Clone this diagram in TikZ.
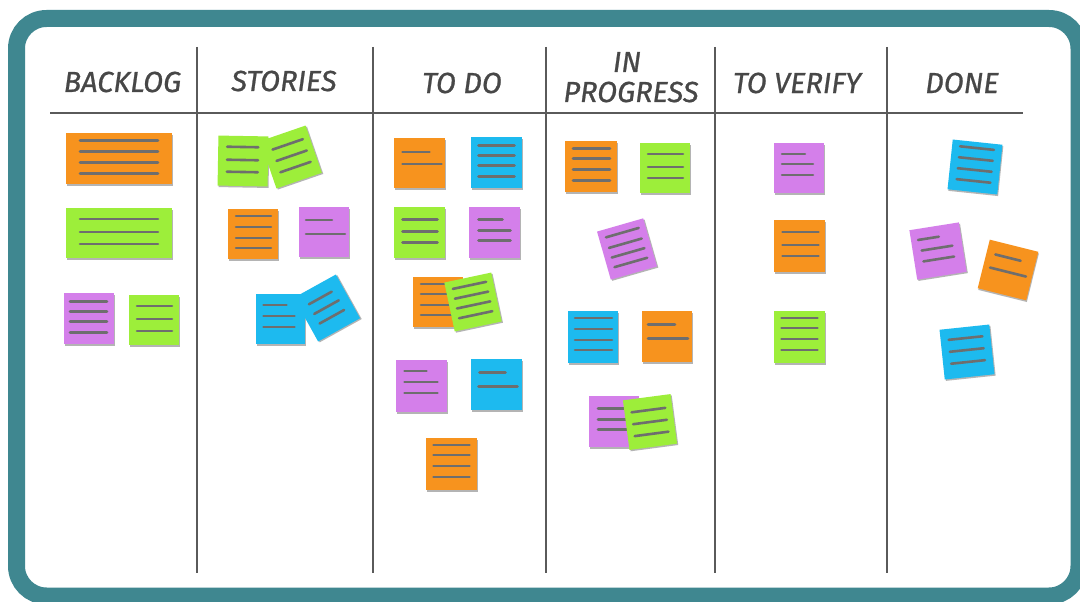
\documentclass[tikz,border=0pt]{standalone}
\usepackage{fontspec}
\newfontfamily\handfont[FakeBold=0.8]{Fira Sans}
\definecolor{frameteal}{HTML}{3F8790}
\definecolor{gridgray}{HTML}{5A5A5A}
\definecolor{inkgray}{HTML}{474747}
\definecolor{lingray}{HTML}{6E6E6E}
\definecolor{shadgray}{HTML}{B4B4B4}
\definecolor{cor}{HTML}{F7931E}
\definecolor{cgr}{HTML}{9DEE3A}
\definecolor{cpu}{HTML}{D47FEA}
\definecolor{cbl}{HTML}{1DBAEF}
\tikzset{
  notebox/.style={draw=none, inner sep=0pt, transform shape},
  noteline/.style={line width=2.6pt, draw=lingray, line cap=round},
  gridline/.style={line width=2.8pt, draw=gridgray},
  head/.style={font=\handfont\itshape\fontsize{29}{31}\selectfont, text=inkgray, anchor=base, inner sep=0pt},
}
\newcommand\stickynote[7]{%
  \begin{scope}[shift={#2}, rotate=#3]
    \fill[shadgray] (-#5/2+1,-#6/2+1.5) rectangle (#5/2+1,#6/2+1.5);
    \node[notebox, fill=#4, minimum width=#5pt, minimum height=#6pt] (#1) at (0,0) {};
    \foreach \xa/\xb/\yy in {#7} \draw[noteline] (\xa,\yy) -- (\xb,\yy);
  \end{scope}}
\begin{document}
\begin{tikzpicture}[x=1pt,y=-1pt]
\useasboundingbox (0,0) rectangle (1080,602);
\clip (0,0) rectangle (1080,602);
\fill[white] (0,0) rectangle (1080,602);
% frame
\draw[frameteal, line width=17pt, rounded corners=30pt] (16.5,18.5) rectangle (1079,596);
% grid
\coordinate (hl) at (50,113);
\coordinate (hr) at (1023,113);
\draw[gridline] (hl) -- (hr);
\foreach \x [count=\i] in {197,373,546,715,887} {
  \coordinate (vt\i) at (\x,47);
  \coordinate (vb\i) at (\x,573);
  \draw[gridline] (vt\i) -- (vb\i);
}
% headers
\node[head] (hbacklog) at (122.5,92) {BACKLOG};
\node[head] (hstories) at (284,91) {STORIES};
\node[head] (htodo) at (462,93) {TO DO};
\node[head] (hin) at (627,72) {IN};
\node[head] (hprog) at (631,102) {PROGRESS};
\node[head] (hverify) at (797,93) {TO VERIFY};
\node[head] (hdone) at (962,93) {DONE};
% backlog
\stickynote{b1}{(119,158.5)}{0}{cor}{106}{51}{-39/39/-18,-39/39/-7,-39/39/4,-39/39/15}
\stickynote{b2}{(119,233)}{0}{cgr}{106}{50}{-39/39/-14,-39/39/-1,-39/39/11}
\stickynote{b3}{(89,318.5)}{0}{cpu}{50}{51}{-19/18/-17,-19/18/-7,-19/18/3,-19/18/14}
\stickynote{b4}{(154,320)}{0}{cgr}{50}{50}{-17/18/-14,-17/18/-1,-17/18/11}
% stories
\stickynote{s1}{(243,161)}{-1}{cgr}{50}{50}{-16/15/-14,-16/15/-1,-16/15/11}
\stickynote{s2}{(291,157)}{19}{cgr}{48}{50}{-15/17/-13,-15/17/-1,-15/17/11}
\stickynote{s3}{(253,234)}{0}{cor}{50}{50}{-17/18/-18,-17/18/-7,-17/18/4,-17/18/14}
\stickynote{s4}{(324,232)}{0}{cpu}{50}{50}{-18/8/-12,-18/21/2}
\stickynote{s5}{(280.5,319)}{0}{cbl}{49}{50}{-17/6/-14,-17/14/-3,-17/14/8}
\stickynote{s6}{(327,308)}{29}{cbl}{48}{50}{-14/12/-12,-14/14/-1,-14/14/10}
% to do
\stickynote{t1}{(419.5,163)}{0}{cor}{51}{50}{-17/10/-11,-17/22/1}
\stickynote{t2}{(496.5,162.5)}{0}{cbl}{51}{51}{-18/18/-17,-18/18/-7,-18/18/3,-18/18/14}
\stickynote{t3}{(419.5,232.5)}{0}{cgr}{51}{51}{-17/18/-13,-17/18/-1,-17/18/10}
\stickynote{t4}{(494.5,232.5)}{0}{cpu}{51}{51}{-16/8/-13,-16/16/-2,-16/16/8}
\stickynote{t5}{(438,302)}{0}{cor}{50}{50}{-17/17/-18,-17/17/-8,-17/17/3,-17/17/13}
\stickynote{t6}{(473,302)}{12}{cgr}{48}{50}{-17/17/-17,-17/17/-7,-17/17/3,-17/17/13}
\stickynote{t7}{(421.5,386)}{0}{cpu}{51}{52}{-17/5/-15,-17/16/-4,-17/16/7}
\stickynote{t8}{(496.5,384.5)}{0}{cbl}{51}{51}{-17/9/-12,-18/21/2}
\stickynote{t9}{(451.5,464)}{0}{cor}{51}{52}{-18/18/-19,-18/18/-9,-18/18/2,-18/18/13}
% in progress
\stickynote{p1}{(591,166.5)}{0}{cor}{52}{51}{-18/19/-18,-18/19/-8,-18/19/3,-18/19/14}
\stickynote{p2}{(665,168)}{0}{cgr}{50}{50}{-17/18/-14,-17/18/-1,-17/18/10}
\stickynote{p3}{(627,249)}{16}{cpu}{48}{50}{-17/17/-17,-17/17/-6,-17/17/4,-17/17/14}
\stickynote{p4}{(593,337)}{0}{cbl}{50}{52}{-18/19/-19,-18/19/-8,-18/19/3,-18/19/13}
\stickynote{p5}{(667,336.5)}{0}{cor}{50}{51}{-19/8/-12,-19/21/2}
\stickynote{p6}{(614,421.5)}{0}{cpu}{50}{51}{-16/16/-13,-16/16/-2,-16/16/8}
\stickynote{p7}{(650,422)}{7.5}{cgr}{48}{50}{-17/17/-12,-17/17/0,-17/17/12}
% to verify
\stickynote{v1}{(799,168)}{0}{cpu}{50}{50}{-17/6/-14,-17/14/-4,-17/14/7}
\stickynote{v2}{(799.5,246)}{0}{cor}{51}{52}{-17/19/-14,-17/19/-1,-17/19/10}
\stickynote{v3}{(799.5,337)}{0}{cgr}{51}{52}{-18/18/-19,-18/18/-9,-18/18/2,-18/18/13}
% done
\stickynote{d1}{(975,167)}{-6}{cbl}{50}{50}{-17/17/-19,-17/17/-8,-17/17/3,-17/17/14}
\stickynote{d2}{(938,251)}{9}{cpu}{50}{50}{-18/3/-14,-16/15/-3,-16/15/8}
\stickynote{d3}{(1008,270)}{-14}{cor}{50}{50}{-16/10/-12,-18/19/2}
\stickynote{d4}{(967,352)}{6}{cbl}{50}{50}{-17/17/-14,-17/17/-2,-17/17/10}
\end{tikzpicture}
\end{document}
